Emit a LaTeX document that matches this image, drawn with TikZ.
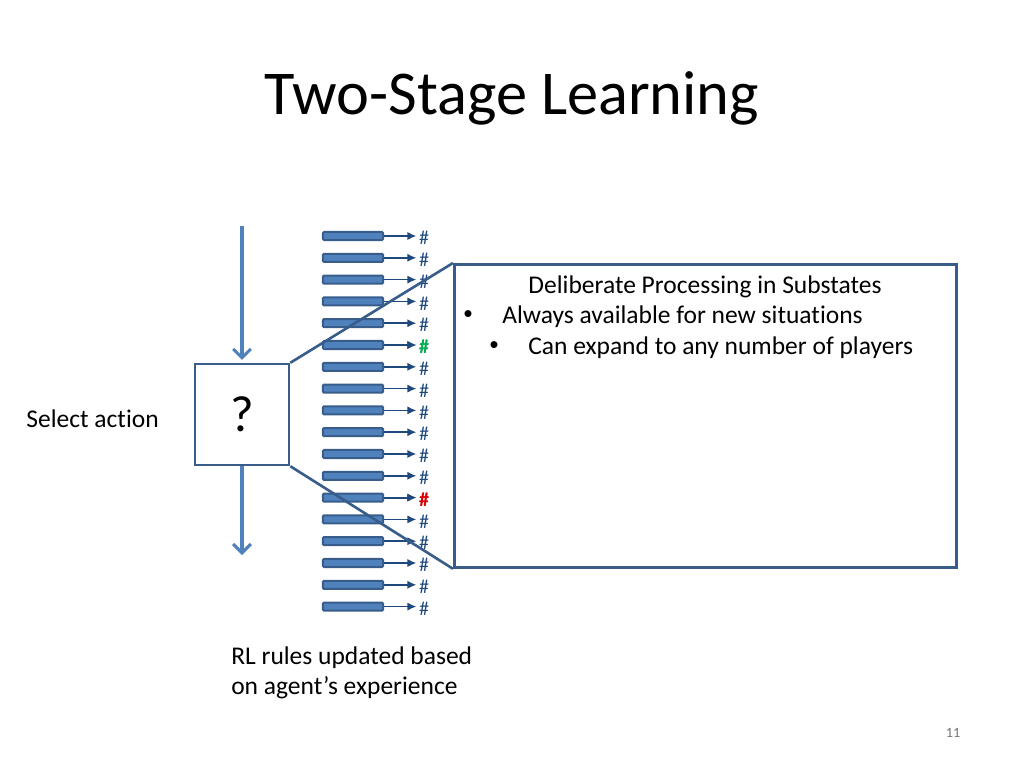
\documentclass[tikz,border=0pt]{standalone}
\usepackage{fontspec}
\setmainfont{Carlito}[Ligatures=CommonOff]
\newfontfamily\bulletfont{Liberation Sans}
\usetikzlibrary{arrows.meta}
\definecolor{barfill}{HTML}{4F81BD}
\definecolor{barline}{HTML}{385D8A}
\definecolor{hashblue}{HTML}{1F497D}
\definecolor{hashgreen}{HTML}{00B050}
\definecolor{hashred}{HTML}{E00000}
\tikzset{
	rulebar/.style={draw=barline, fill=barfill, line width=0.5mm, rounded corners=0.3mm,
		minimum width=1.5cm, minimum height=0.2cm, inner sep=0pt},
	hashmark/.style={text=hashblue, font=\fontsize{14}{16}\selectfont, inner sep=0pt},
	rulearrow/.style={hashblue, line width=0.35mm, -{Latex[length=2.2mm,width=2mm]}},
	flowarrow/.style={barfill, line width=0.75mm, -{Straight Barb[length=2.2mm,width=4.4mm]}},
	zoomline/.style={barline, line width=0.65mm},
	bodytext/.style={font=\fontsize{18}{21.6}\selectfont, inner sep=0pt}
}
\begin{document}
\begin{tikzpicture}[x=0.24805mm, y=-0.24805mm]
		%%%%% START %%%%%
		\useasboundingbox (0, 0) rectangle (1024, 768);
		
		\node[font=\fontsize{44}{52}\selectfont] (title) at (512, 98) {Two-Stage Learning};
		
		\node[draw=barline, line width=0.65mm, minimum width=2.33cm, minimum height=2.5cm,
			font=\fontsize{36}{42}\selectfont] (choice) at (242, 414.5) {?};
		\node[bodytext, anchor=east] (select) at (159, 419) {Select action};
		
		\coordinate (flowtop) at (242, 226);
		\coordinate (flowbottom) at (242, 555);
		\draw[flowarrow, shorten >=0.7mm] (flowtop) -- (choice.north);
		\draw[flowarrow] (choice.south) -- (flowbottom);
		
		% rule bars
		\foreach \i in {1,...,18}{
			\node[rulebar] (bar\i) at (353, {236 + 21.8*(\i-1)}) {};
			\node[hashmark] (hash\i) at (424, {238 + 21.8*(\i-1)}) {\#};
			\draw[rulearrow] (bar\i.east) -- ([xshift=-0.6mm]hash\i.west |- bar\i.east);
		}
		\node[hashmark, text=hashgreen, font=\bfseries\fontsize{14}{16}\selectfont] at (hash6) {\#};
		\node[hashmark, text=hashred, font=\bfseries\fontsize{14}{16}\selectfont] at (hash13) {\#};
		\draw[rulearrow, line width=0.5mm] (bar6.east) -- ([xshift=-0.6mm]hash6.west |- bar6.east);
		\draw[rulearrow, line width=0.5mm] (bar13.east) -- ([xshift=-0.6mm]hash13.west |- bar13.east);
		
		% substate box
		\node[draw=barline, fill=white, line width=0.65mm, minimum width=12.45cm, minimum height=7.52cm,
			anchor=north west] (substate) at (453, 263) {};
		\draw[zoomline] (choice.north east) -- (substate.north west);
		\draw[zoomline] (choice.south east) -- (substate.south west);
		
		\node[bodytext] (heading) at (705, 287) {Deliberate Processing in Substates};
		\node[bodytext, font=\bulletfont\fontsize{18}{21.6}\selectfont] (dot1) at (468, 317) {•};
		\node[bodytext, anchor=west] (item1) at (502, 317) {Always available for new situations};
		\node[bodytext, font=\bulletfont\fontsize{18}{21.6}\selectfont] (dot2) at (494, 348) {•};
		\node[bodytext, anchor=west] (item2) at (528, 348) {Can expand to any number of players};
		
		\node[bodytext, align=left, anchor=west] (update) at (231, 673) {RL rules updated based\\on agent’s experience};
		
		\node[font=\fontsize{10}{12}\selectfont, text=black!55] (page) at (953, 733) {11};
		
		%%%%% END %%%%%
	\end{tikzpicture}
\end{document}
